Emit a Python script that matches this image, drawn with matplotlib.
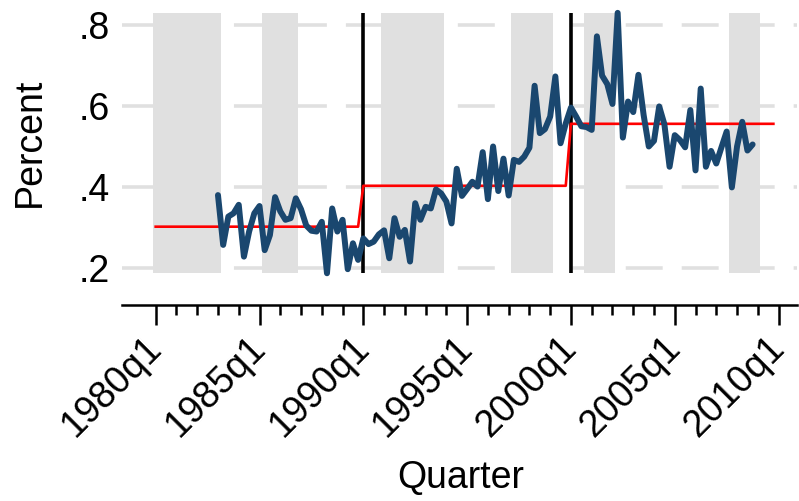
import numpy as np
import matplotlib
matplotlib.use("Agg")
import matplotlib.pyplot as plt
from matplotlib.transforms import ScaledTranslation

plt.rcParams['font.family'] = ['Liberation Sans', 'DejaVu Sans']
plt.rcParams['lines.scale_dashes'] = False

# ---- data ----
# quarter index: 0 = 1980q1
series_start_q = 12   # 1983q1
percent = [
    .380, .257, .327, .335, .356, .228, .290, .335, .353, .244,
    .281, .375, .340, .319, .323, .372, .345, .305, .292, .290,
    .314, .187, .347, .290, .319, .197, .261, .220, .273, .259,
    .265, .283, .293, .224, .323, .277, .294, .216, .360, .319,
    .351, .347, .394, .384, .364, .310, .445, .378, .395, .413,
    .401, .486, .370, .500, .390, .470, .379, .467, .462, .475,
    .497, .650, .533, .543, .574, .673, .508, .557, .596, .574,
    .550, .548, .541, .772, .675, .654, .605, .830, .522, .611,
    .585, .677, .578, .500, .514, .599, .555, .450, .528, .516,
    .498, .590, .441, .643, .450, .489, .458, .498, .537, .399,
    .500, .561, .490, .505,
]
# shaded periods (first and last quarter index, inclusive)
band_first = [0, 21, 44, 69, 83, 111]
band_last = [12, 27, 55, 76, 88, 116]
# period means (red line)
period_first = [0, 40, 80]
period_last = [39, 79, 119]
period_mean = [0.302, 0.403, 0.556]
# break lines
break_q = [40, 80]
# ticks
xtick_q = [0, 20, 40, 60, 80, 100, 120]
xtick_labels = ["1980q1", "1985q1", "1990q1", "1995q1", "2000q1", "2005q1", "2010q1"]
minor_q = [q for q in range(0, 124, 4) if q not in xtick_q]
ytick_vals = [0.2, 0.4, 0.6, 0.8]
ytick_labels = [".2", ".4", ".6", ".8"]

FS = 27

# ---- figure ----
fig = plt.figure(figsize=(7.99, 5.01), dpi=100)
ax = fig.add_axes([122/799, 1-305/501, (797-122)/799, 300/501])
ax.set_xlim(-6.49, 123.55)
ax.set_ylim(0.1086, 0.8494)

q = np.arange(series_start_q, series_start_q + len(percent))
ymin, ymax = min(percent), max(percent)

grey = '#e0e0e0'
# gridlines
for yv in ytick_vals:
    ax.axhline(yv, color=grey, lw=2.6, linestyle=(0, (26.6, 13.7)),
               dash_capstyle='butt', zorder=0)
# bands
for a, b in zip(band_first, band_last):
    ax.fill_between([a - 0.5, b + 0.5], ymin, ymax, color=grey, lw=0, zorder=1)
# break lines
for bq in break_q:
    ax.plot([bq, bq], [ymin, ymax], color='black', lw=2.6, zorder=3,
            solid_capstyle='butt')
# mean line
mx, my = [], []
for a, b, m in zip(period_first, period_last, period_mean):
    mx += [a, b]
    my += [m, m]
ax.plot(mx, my, color='#ff0000', lw=1.9, zorder=4)
# series
ax.plot(q, percent, color='#1a476f', lw=4.3, zorder=5,
        solid_joinstyle='round', solid_capstyle='round')

# axes styling
for s in ['top', 'right', 'left']:
    ax.spines[s].set_visible(False)
ax.spines['bottom'].set_linewidth(1.8)
ax.set_xticks(xtick_q)
ax.set_xticklabels(xtick_labels, rotation=45, ha='right', va='center',
                   rotation_mode='anchor', fontsize=FS)
off = ScaledTranslation(-5.5/100, 0, fig.dpi_scale_trans)
for lab in ax.get_xticklabels():
    lab.set_transform(lab.get_transform() + off)
ax.set_xticks(minor_q, minor=True)
ax.tick_params(axis='x', which='major', length=14.4, width=1.8, pad=12.6)
ax.tick_params(axis='x', which='minor', length=7.2, width=1.8)
ax.set_yticks(ytick_vals)
ax.set_yticklabels(ytick_labels, fontsize=FS)
ax.tick_params(axis='y', length=0, pad=8.6)

fig.text(30/799, 1-142/501, "Percent", rotation=90, ha='center', va='center', fontsize=FS)
fig.text(461/799, 1-478/501, "Quarter", ha='center', va='center', fontsize=FS)

fig.savefig("out.png", dpi=100)
